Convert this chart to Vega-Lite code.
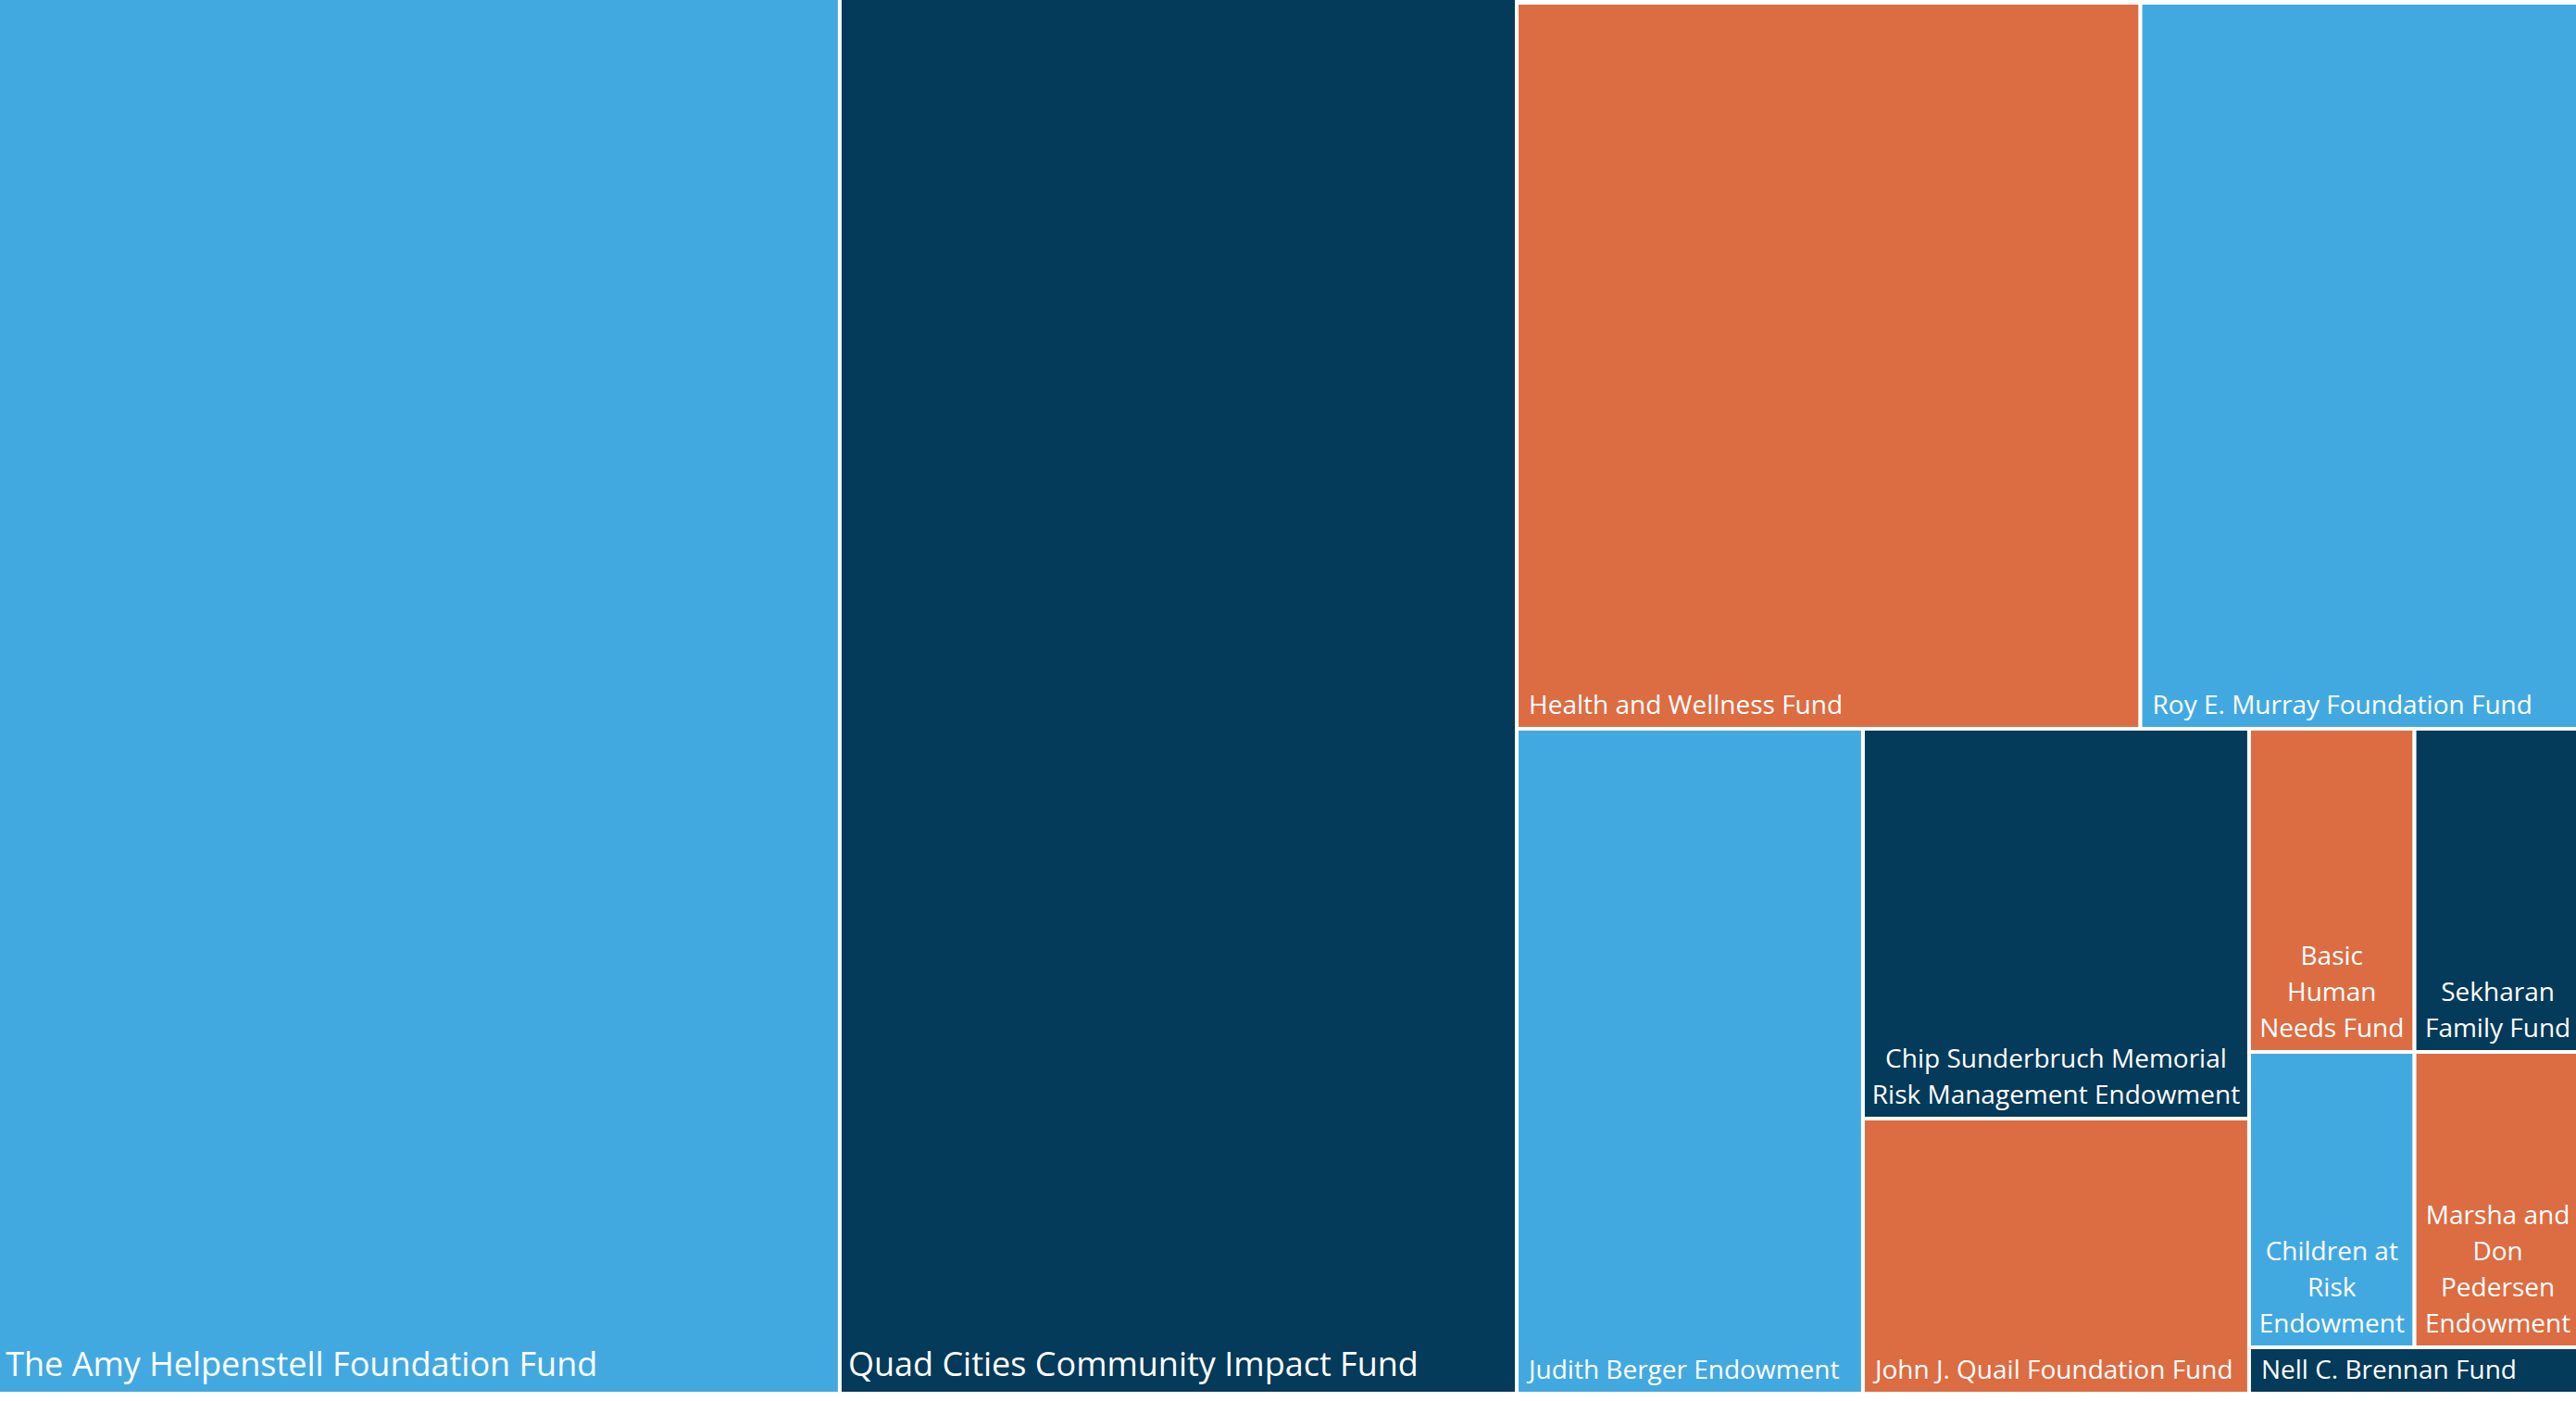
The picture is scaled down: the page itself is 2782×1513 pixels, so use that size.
{
  "$schema": "https://vega.github.io/schema/vega-lite/v6.json",
  "width": 2782,
  "height": 1513,
  "autosize": {"type": "none"},
  "padding": 0,
  "background": "white",
  "config": {"view": {"stroke": null}},
  "data": {
    "values": [
      {"name": "The Amy Helpenstell Foundation Fund", "label": "The Amy Helpenstell Foundation Fund", "x0": -0.1, "x1": 32.60, "y0": -0.2, "y1": 99.47},
      {"name": "Quad Cities Community Impact Fund", "label": "Quad Cities Community Impact Fund", "x0": 32.60, "x1": 58.88, "y0": -0.2, "y1": 99.47},
      {"name": "Health and Wellness Fund", "label": "Health and Wellness Fund", "x0": 58.88, "x1": 83.09, "y0": 0.20, "y1": 52.02},
      {"name": "Roy E. Murray Foundation Fund", "label": "Roy E. Murray Foundation Fund", "x0": 83.09, "x1": 100.2, "y0": 0.20, "y1": 52.02},
      {"name": "Judith Berger Endowment", "label": "Judith Berger Endowment", "x0": 58.88, "x1": 72.32, "y0": 52.02, "y1": 99.47},
      {"name": "Chip Sunderbruch Memorial Risk Management Endowment", "label": "Chip Sunderbruch Memorial|Risk Management Endowment", "x0": 72.32, "x1": 87.31, "y0": 52.02, "y1": 79.84},
      {"name": "John J. Quail Foundation Fund", "label": "John J. Quail Foundation Fund", "x0": 72.32, "x1": 87.31, "y0": 79.84, "y1": 99.47},
      {"name": "Basic Human Needs Fund", "label": "Basic|Human|Needs Fund", "x0": 87.31, "x1": 93.73, "y0": 52.02, "y1": 75.08},
      {"name": "Sekharan Family Fund", "label": "Sekharan|Family Fund", "x0": 93.73, "x1": 100.2, "y0": 52.02, "y1": 75.08},
      {"name": "Children at Risk Endowment", "label": "Children at|Risk|Endowment", "x0": 87.31, "x1": 93.73, "y0": 75.08, "y1": 96.17},
      {"name": "Marsha and Don Pedersen Endowment", "label": "Marsha and|Don|Pedersen|Endowment", "x0": 93.73, "x1": 100.2, "y0": 75.08, "y1": 96.17},
      {"name": "Nell C. Brennan Fund", "label": "Nell C. Brennan Fund", "x0": 87.31, "x1": 100.2, "y0": 96.17, "y1": 99.47}
    ]
  },
  "transform": [{"calculate": "(datum.x0 + datum.x1) / 2", "as": "xc"}],
  "encoding": {
    "x": {"field": "x0", "type": "quantitative", "scale": {"domain": [0, 100], "nice": false, "zero": false}, "axis": null},
    "y": {"field": "y1", "type": "quantitative", "scale": {"domain": [0, 100], "nice": false, "zero": false, "reverse": true}, "axis": null}
  },
  "layer": [
    {
      "mark": {"type": "rect", "stroke": "white", "strokeWidth": 4, "clip": true},
      "encoding": {
        "x": {"field": "x0", "type": "quantitative"},
        "x2": {"field": "x1"},
        "y": {"field": "y0", "type": "quantitative"},
        "y2": {"field": "y1"},
        "color": {
          "field": "name",
          "type": "nominal",
          "legend": null,
          "scale": {
            "domain": ["The Amy Helpenstell Foundation Fund", "Quad Cities Community Impact Fund", "Health and Wellness Fund", "Roy E. Murray Foundation Fund", "Judith Berger Endowment", "Chip Sunderbruch Memorial Risk Management Endowment", "John J. Quail Foundation Fund", "Basic Human Needs Fund", "Sekharan Family Fund", "Children at Risk Endowment", "Marsha and Don Pedersen Endowment", "Nell C. Brennan Fund"],
            "range": ["#42A9E0", "#043A5A", "#DC6C42", "#42A9E0", "#42A9E0", "#043A5A", "#DC6C42", "#DC6C42", "#043A5A", "#42A9E0", "#DC6C42", "#043A5A"]
          }
        }
      }
    },
    {
      "transform": [{"filter": {"field": "name", "oneOf": ["The Amy Helpenstell Foundation Fund", "Quad Cities Community Impact Fund"]}}],
      "mark": {"type": "text", "align": "left", "baseline": "alphabetic", "dx": 9, "dy": -19, "font": "Open Sans", "fontSize": 36, "color": "white"},
      "encoding": {
        "x": {"field": "x0", "type": "quantitative"},
        "y": {"field": "y1", "type": "quantitative"},
        "text": {"field": "label"}
      }
    },
    {
      "transform": [{"filter": {"field": "name", "oneOf": ["Health and Wellness Fund", "Roy E. Murray Foundation Fund", "Judith Berger Endowment", "John J. Quail Foundation Fund", "Nell C. Brennan Fund"]}}],
      "mark": {"type": "text", "align": "left", "baseline": "alphabetic", "dx": 13, "dy": -16, "font": "Open Sans", "fontSize": 28, "color": "white"},
      "encoding": {
        "x": {"field": "x0", "type": "quantitative"},
        "y": {"field": "y1", "type": "quantitative"},
        "text": {"field": "label"}
      }
    },
    {
      "transform": [{"filter": {"field": "name", "oneOf": ["Chip Sunderbruch Memorial Risk Management Endowment", "Sekharan Family Fund"]}}],
      "mark": {"type": "text", "align": "center", "baseline": "alphabetic", "dy": -55, "lineBreak": "|", "lineHeight": 39, "font": "Open Sans", "fontSize": 28, "color": "white"},
      "encoding": {
        "x": {"field": "xc", "type": "quantitative"},
        "y": {"field": "y1", "type": "quantitative"},
        "text": {"field": "label"}
      }
    },
    {
      "transform": [{"filter": {"field": "name", "oneOf": ["Basic Human Needs Fund", "Children at Risk Endowment"]}}],
      "mark": {"type": "text", "align": "center", "baseline": "alphabetic", "dy": -94, "lineBreak": "|", "lineHeight": 39, "font": "Open Sans", "fontSize": 28, "color": "white"},
      "encoding": {
        "x": {"field": "xc", "type": "quantitative"},
        "y": {"field": "y1", "type": "quantitative"},
        "text": {"field": "label"}
      }
    },
    {
      "transform": [{"filter": {"field": "name", "oneOf": ["Marsha and Don Pedersen Endowment"]}}],
      "mark": {"type": "text", "align": "center", "baseline": "alphabetic", "dy": -133, "lineBreak": "|", "lineHeight": 39, "font": "Open Sans", "fontSize": 28, "color": "white"},
      "encoding": {
        "x": {"field": "xc", "type": "quantitative"},
        "y": {"field": "y1", "type": "quantitative"},
        "text": {"field": "label"}
      }
    }
  ]
}
